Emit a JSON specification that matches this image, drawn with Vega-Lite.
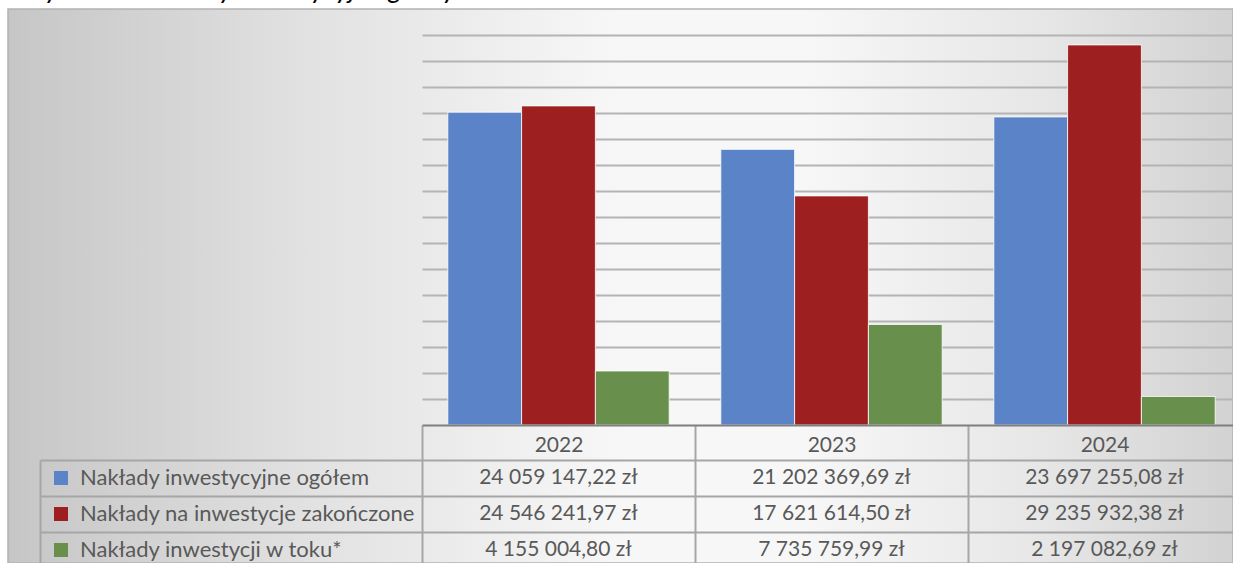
{
  "$schema": "https://vega.github.io/schema/vega-lite/v6.json",
  "width": 1225,
  "height": 554,
  "autosize": {"type": "none"},
  "padding": {"left": 8, "top": 9, "right": 0, "bottom": 0},
  "background": "#ffffff",
  "title": {
    "text": "Wykres 3. Nakłady inwestycyjne gminy w latach 2022–2024",
    "anchor": "start",
    "frame": "group",
    "font": "Lato",
    "fontSize": 27,
    "fontStyle": "italic",
    "fontWeight": "normal",
    "color": "#000000",
    "baseline": "alphabetic",
    "offset": -16,
    "dx": 12
  },
  "view": {
    "fill": {
      "gradient": "linear",
      "x1": 0, "y1": 0, "x2": 1, "y2": 0,
      "stops": [
        {"offset": 0, "color": "#c6c6c6"},
        {"offset": 0.25, "color": "#e2e2e2"},
        {"offset": 0.5, "color": "#f7f7f7"},
        {"offset": 0.65, "color": "#f7f7f7"},
        {"offset": 0.85, "color": "#e6e6e6"},
        {"offset": 1, "color": "#d2d2d2"}
      ]
    },
    "stroke": "#b3b3b3",
    "strokeWidth": 1.5
  },
  "config": {
    "locale": {
      "number": {
        "decimal": ",",
        "thousands": "\u00a0",
        "grouping": [3],
        "currency": ["", "\u00a0zł"]
      }
    }
  },
  "data": {
    "values": [
      {"year": "2022", "series": "Nakłady inwestycyjne ogółem", "value": 24059147.22},
      {"year": "2022", "series": "Nakłady na inwestycje zakończone", "value": 24546241.97},
      {"year": "2022", "series": "Nakłady inwestycji w toku*", "value": 4155004.80},
      {"year": "2023", "series": "Nakłady inwestycyjne ogółem", "value": 21202369.69},
      {"year": "2023", "series": "Nakłady na inwestycje zakończone", "value": 17621614.50},
      {"year": "2023", "series": "Nakłady inwestycji w toku*", "value": 7735759.99},
      {"year": "2024", "series": "Nakłady inwestycyjne ogółem", "value": 23697255.08},
      {"year": "2024", "series": "Nakłady na inwestycje zakończone", "value": 29235932.38},
      {"year": "2024", "series": "Nakłady inwestycji w toku*", "value": 2197082.69}
    ]
  },
  "layer": [
    {
      "mark": {"type": "bar", "stroke": "#ffffff", "strokeWidth": 1, "strokeOpacity": 0.8},
      "encoding": {
        "x": {
          "field": "year", "type": "nominal",
          "scale": {"range": [414, 1233], "paddingInner": 0, "paddingOuter": 0},
          "axis": {
            "orient": "bottom", "offset": -138, "title": null, "zindex": 1,
            "domain": true, "domainColor": "#7f7f7f", "domainWidth": 2,
            "ticks": true, "tickBand": "extent", "tickSize": 150, "tickColor": "#a6a6a6", "tickWidth": 2,
            "labels": true, "labelFont": "Lato", "labelFontSize": 21, "labelColor": "#595959",
            "labelPadding": -130, "labelBaseline": "middle", "labelAngle": 0,
            "grid": false
          }
        },
        "xOffset": {
          "field": "series", "type": "nominal",
          "scale": {
            "domain": ["Nakłady inwestycyjne ogółem", "Nakłady na inwestycje zakończone", "Nakłady inwestycji w toku*"],
            "paddingInner": 0, "paddingOuter": 0.35
          }
        },
        "y": {
          "field": "value", "type": "quantitative",
          "scale": {"domain": [0, 30000000], "range": [416, 26], "nice": false, "zero": true},
          "axis": {
            "orient": "left", "title": null, "grid": true,
            "values": [2000000, 4000000, 6000000, 8000000, 10000000, 12000000, 14000000, 16000000, 18000000, 20000000, 22000000, 24000000, 26000000, 28000000, 30000000],
            "gridColor": "#b4b4b4", "gridWidth": 2,
            "domain": false, "ticks": false, "labels": false
          }
        },
        "color": {
          "field": "series", "type": "nominal",
          "scale": {
            "domain": ["Nakłady inwestycyjne ogółem", "Nakłady na inwestycje zakończone", "Nakłady inwestycji w toku*"],
            "range": ["#5b83c8", "#9e1f20", "#698f4c"]
          },
          "legend": {
            "title": null, "orient": "none", "legendX": 42, "legendY": 458,
            "symbolType": "square", "symbolSize": 196, "symbolStrokeWidth": 0,
            "labelFont": "Lato", "labelFontSize": 22, "labelColor": "#595959",
            "labelOffset": 8, "rowPadding": 14, "padding": 0, "labelLimit": 500
          }
        }
      }
    },
    {
      "mark": {"type": "text", "font": "Lato", "fontSize": 21, "color": "#595959", "baseline": "middle", "align": "center"},
      "encoding": {
        "x": {"field": "year", "type": "nominal"},
        "y": {
          "field": "series", "type": "nominal",
          "scale": {
            "domain": ["Nakłady inwestycyjne ogółem", "Nakłady na inwestycje zakończone", "Nakłady inwestycji w toku*"],
            "range": [451, 559], "paddingInner": 0, "paddingOuter": 0
          },
          "axis": {
            "orient": "left", "offset": -32, "title": null, "labels": false,
            "domainColor": "#a6a6a6", "domainWidth": 2,
            "tickBand": "extent", "tickSize": -382, "tickColor": "#a6a6a6", "tickWidth": 2,
            "grid": true, "gridColor": "#a6a6a6", "gridWidth": 2
          }
        },
        "text": {"field": "value", "type": "quantitative", "format": "$,.2f"}
      }
    }
  ],
  "resolve": {"scale": {"y": "independent"}, "axis": {"y": "independent"}}
}
